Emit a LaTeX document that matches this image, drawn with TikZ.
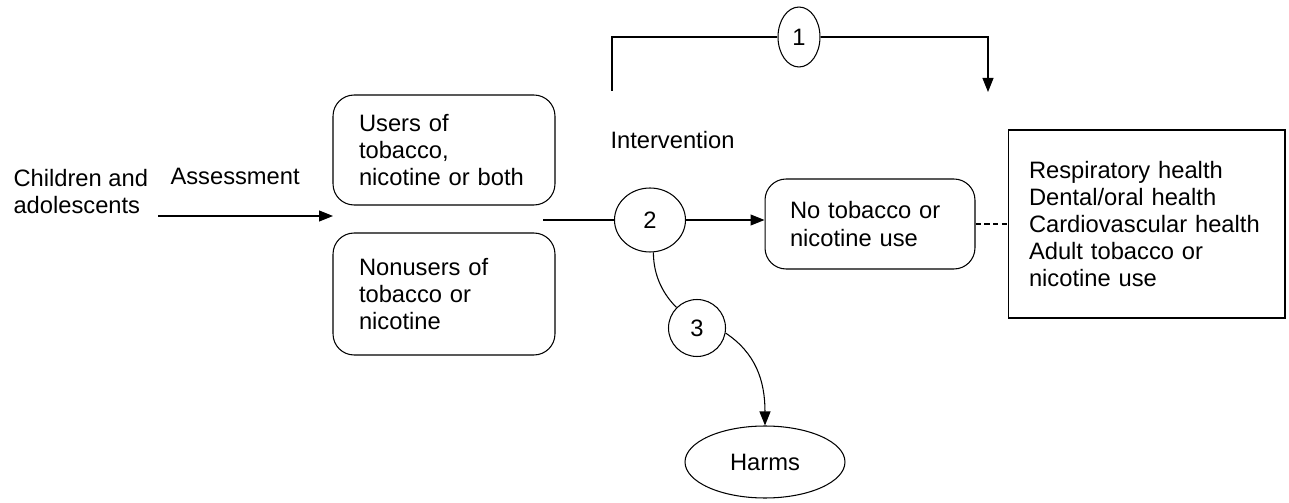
\documentclass[tikz,border=0pt]{standalone}
\usepackage{fontspec}
\setmainfont{Liberation Sans}
\usetikzlibrary{arrows.meta,shapes.geometric}

\tikzset{
    roundbox/.style={draw, rounded corners=12pt, inner xsep=0pt, align=left},
    plainbox/.style={draw, inner xsep=0pt, align=left},
    kq/.style={draw, ellipse, inner sep=0pt},
    arr/.style={-{Triangle[length=0.28cm,width=0.22cm]}},
}

\begin{document}
\begin{tikzpicture}[x=0.02cm, y=-0.02cm, line width=0.6pt,
    font=\fontsize{13.5}{15.4}\selectfont]
    \useasboundingbox (0,0) rectangle (1289,503);

    % Population
    \node[anchor=west, inner sep=0pt, align=left] (pop) at (13,191.5) {Children and\\adolescents};
    \node[anchor=base west, inner sep=0pt] (assess) at (170,185) {Assessment};
    \coordinate (popin) at (158,216);
    \coordinate (popend) at (333,216);
    \coordinate (popout) at (543,220);

    % Groups
    \node[roundbox, minimum width=4.44cm, minimum height=2.2cm, text width=3.4cm] (users) at (444,150) {Users of\\tobacco,\\nicotine or both};
    \node[roundbox, minimum width=4.44cm, minimum height=2.44cm, text width=3.4cm] (nonusers) at (444,294) {Nonusers of\\tobacco or\\nicotine};

    % Intervention and outcomes
    \node[anchor=base west, inner sep=0pt] (interv) at (610,149) {Intervention};
    \node[roundbox, minimum width=4.2cm, minimum height=1.8cm, text width=3.2cm] (nouse) at (870,224) {No tobacco or\\nicotine use};
    \node[plainbox, minimum width=5.54cm, minimum height=3.76cm, text width=4.7cm] (outc) at (1146.5,224) {Respiratory health\\Dental/oral health\\Cardiovascular health\\Adult tobacco or\\nicotine use};
    \node[draw, ellipse, minimum width=3.2cm, minimum height=1.44cm] (harms) at (765,462) {Harms};

    % Key questions
    \node[kq, minimum width=0.84cm, minimum height=1.2cm] (k1) at (799,37) {1};
    \node[kq, minimum width=1.42cm, minimum height=1.28cm] (k2) at (650,220) {2};
    \node[kq, minimum width=1.14cm, minimum height=1.14cm] (k3) at (697,328) {3};
    \coordinate (k1in) at (612,91);
    \coordinate (k1out) at (988,92);

    % Connectors
    \draw[arr] (popin) -- (popend);
    \draw (popout) -- (k2.west);
    \draw[arr] (k2.east) -- (k2.east -| nouse.west);
    \draw[dashed, dash pattern=on 3pt off 2pt] (nouse.east) -- (nouse.east -| outc.west);
    \draw (k1in) |- (k1.west);
    \draw[arr] (k1.east) -| (k1out);
    \draw (k2.-84) .. controls +(0,25) and +(-12,-12) .. (k3.135);
    \draw[arr] (k3.-10) .. controls +(30,20) and +(0,-45) .. (harms.north);
\end{tikzpicture}
\end{document}
